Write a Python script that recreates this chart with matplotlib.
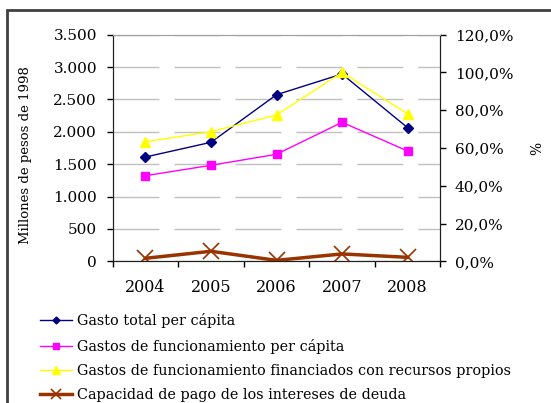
import matplotlib
matplotlib.use("Agg")
import matplotlib.pyplot as plt
from matplotlib.patches import Rectangle
from matplotlib.ticker import FuncFormatter, FixedLocator

plt.rcParams['font.family'] = ['DejaVu Serif']

years = ["2004", "2005", "2006", "2007", "2008"]
gasto_total = [1611, 1838, 2573, 2893, 2064]
gasto_funcionamiento = [1322, 1483, 1653, 2147, 1704]
financiados_propios = [63.3, 68.6, 77.5, 100.0, 78.1]
capacidad_pago = [1.6, 5.3, 0.5, 3.9, 2.1]

W, H = 551, 403
fig = plt.figure(figsize=(W / 100, H / 100), dpi=100)

# outer frame around chart and legend
fig.patches.append(Rectangle((7 / W, -0.1), 1.2, 1 - 10 / H + 0.1,
                             transform=fig.transFigure, fill=False,
                             edgecolor="#404040", linewidth=2))

ax = fig.add_axes([112.7 / W, 141.7 / H, 327.6 / W, 226.6 / H])
ax2 = ax.twinx()

x = list(range(len(years)))

l1, = ax.plot(x, gasto_total, color="#000080", lw=1, marker="D", ms=5,
              label="Gasto total per cápita")
l2, = ax.plot(x, gasto_funcionamiento, color="#FF00FF", lw=1, marker="s", ms=6,
              label="Gastos de funcionamiento per cápita")
l3, = ax2.plot(x, financiados_propios, color="#FFFF00", lw=1, marker="^", ms=7.5,
               label="Gastos de funcionamiento financiados con recursos propios")
l4, = ax2.plot(x, capacidad_pago, color="#993300", lw=2.5, marker="x", ms=11,
               mew=1.2, label="Capacidad de pago de los intereses de deuda")

ax.set_xlim(-0.5, 4.5)
ax.set_ylim(0, 3500)
ax2.set_ylim(0, 120)

ax.set_yticks(range(0, 3501, 500))
ax.yaxis.set_major_formatter(FuncFormatter(lambda v, p: f"{int(v):,}".replace(",", ".")))
ax2.set_yticks(range(0, 121, 20))
ax2.yaxis.set_major_formatter(FuncFormatter(lambda v, p: f"{v:.1f}%".replace(".", ",")))

# tick marks at category boundaries, labels at centres
ax.xaxis.set_major_locator(FixedLocator([i - 0.5 for i in range(len(years) + 1)]))
ax.xaxis.set_major_formatter(FuncFormatter(lambda v, p: ""))
ax.xaxis.set_minor_locator(FixedLocator(x))
ax.set_xticklabels(years, minor=True)
ax.tick_params(axis="x", which="major", length=4, width=1, direction="out")
ax.tick_params(axis="x", which="minor", length=0, pad=13, labelsize=11.5)
ax.tick_params(axis="y", length=4.3, width=1, labelsize=11, pad=7)
ax2.tick_params(axis="y", length=4, width=1, labelsize=11, pad=6.5)

ax.grid(axis="y", color="#c0c0c0", lw=1, dashes=(33.1, 10.8))
ax.set_axisbelow(True)
for a in (ax, ax2):
    a.spines["top"].set_color("#a0a0a0")
    a.spines["left"].set_color("#202020")
    a.spines["right"].set_color("#202020")
    a.spines["bottom"].set_color("#202020")

ax.set_ylabel("Millones de pesos de 1998", fontsize=9.5)
ax.yaxis.set_label_coords(-0.246, 0.467)
ax2.set_ylabel("%", fontsize=10)
ax2.yaxis.set_label_coords(1.274, 0.5)

fig.legend(handles=[l1, l2, l3, l4], loc="upper left",
           bbox_to_anchor=(34 / W, 1 - 307.5 / H), frameon=False,
           fontsize=10.4, handlelength=2.26, handletextpad=0.35,
           labelspacing=0.72, borderaxespad=0, markerscale=0.7)

fig.savefig("out.png", dpi=100)
